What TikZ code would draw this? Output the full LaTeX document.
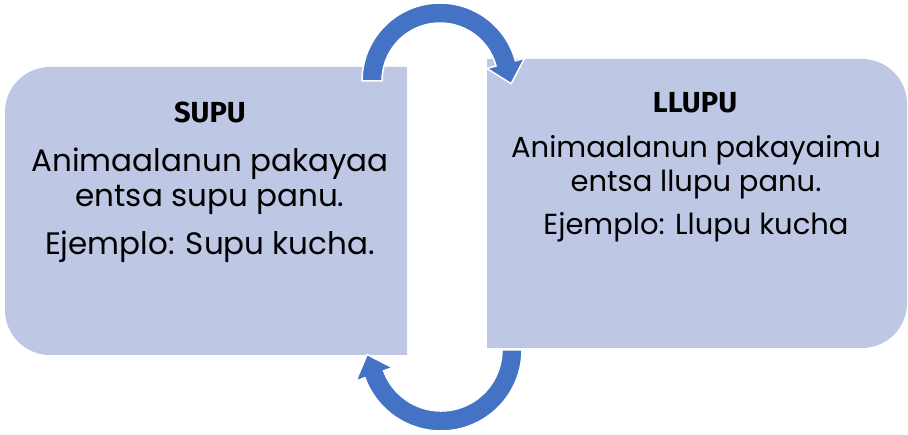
\documentclass[tikz,border=0pt]{standalone}
\usepackage{fontspec}
\setmainfont{Poppins}
\newfontfamily\titlefont{Fira Sans}
\usetikzlibrary{calc}
\definecolor{boxfill}{HTML}{BEC8E4}
\definecolor{arrowblue}{HTML}{4472C4}
\tikzset{
  boxshape/.style={fill=boxfill},
  arrowshape/.style={fill=arrowblue, draw=white, line width=1.5pt, line join=miter},
  bodytext/.style={anchor=base, inner sep=0pt, font=\fontsize{31}{36}\selectfont, text=black},
  bodytextsmall/.style={anchor=base, inner sep=0pt, font=\fontsize{29}{34}\selectfont, text=black},
  titletext/.style={anchor=base, inner sep=0pt, font=\titlefont\bfseries\fontsize{29}{33}\selectfont, text=black}
}
\begin{document}
\begin{tikzpicture}[x=1pt,y=1pt]
\useasboundingbox (0,0) rectangle (908,434);
% boxes
\fill[boxshape] (407,367) -- (50,367) arc[start angle=90,end angle=180,radius=45]
  -- (5,124) arc[start angle=180,end angle=270,radius=45] -- (407,79) -- cycle;
\fill[boxshape] (487,375) -- (862,375) arc[start angle=90,end angle=0,radius=45]
  -- (907,131) arc[start angle=0,end angle=-90,radius=45] -- (487,86) -- cycle;
% top arrow
\begin{scope}[shift={(440,353)}]
\coordinate (ttip) at ($(15:68)+(-75:21)$);
\draw[arrowshape] (180:78) arc[start angle=180,end angle=15,radius=78]
  -- (15:87.5) -- (ttip) -- (15:48.5) -- (15:58)
  arc[start angle=15,end angle=180,radius=58] -- cycle;
\end{scope}
% bottom arrow
\begin{scope}[shift={(441,84)}]
\coordinate (btip) at ($(200:71)+(110:21)$);
\draw[arrowshape] (0:81) arc[start angle=0,end angle=-160,radius=81]
  -- (200:90.5) -- (btip) -- (200:51.5) -- (200:61)
  arc[start angle=-160,end angle=0,radius=61] -- cycle;
\end{scope}
% texts left
\node[titletext] (t1) at (210,311) {SUPU};
\node[bodytext] (l1) at (210,262) {Animaalanun pakayaa};
\node[bodytext] (l2) at (210,227) {entsa supu panu.};
\node[bodytext] (l3) at (210,179) {Ejemplo: Supu kucha.};
% texts right
\node[titletext] (t2) at (695,321) {LLUPU};
\node[bodytextsmall] (r1) at (696,276) {Animaalanun pakayaimu};
\node[bodytextsmall] (r2) at (696,242) {entsa llupu panu.};
\node[bodytextsmall] (r3) at (696,199) {Ejemplo: Llupu kucha};
\end{tikzpicture}
\end{document}
